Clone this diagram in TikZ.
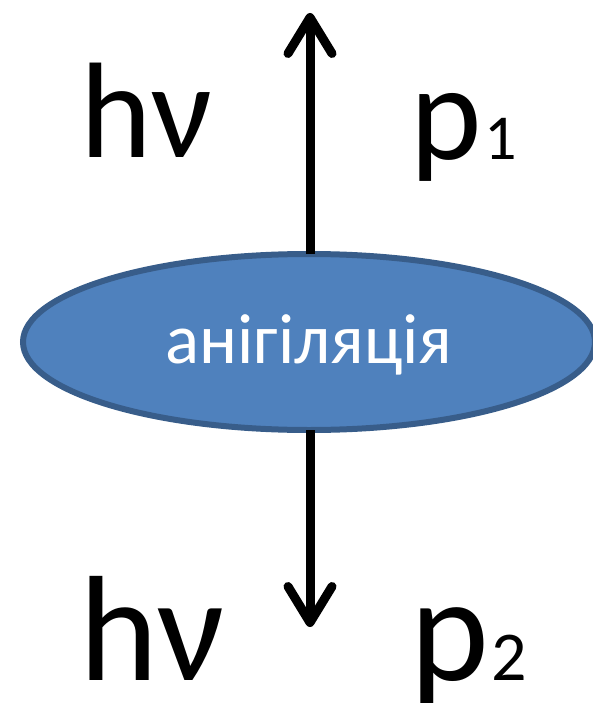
\documentclass[tikz,border=0pt]{standalone}
\usepackage{fontspec}
\setmainfont{Carlito}
\usetikzlibrary{arrows.meta}
\definecolor{ellfill}{HTML}{4F81BD}
\definecolor{elldraw}{HTML}{385D8A}
\begin{document}
\begin{tikzpicture}[x=1pt,y=-1pt,
  big/.style={font=\fontsize{136}{136}\selectfont, inner sep=0pt, anchor=base west},
  bigger/.style={font=\fontsize{150}{150}\selectfont, inner sep=0pt, anchor=base west},
  sub/.style={font=\fontsize{64}{64}\selectfont, inner sep=0pt, anchor=base west},
  subb/.style={font=\fontsize{70}{70}\selectfont, inner sep=0pt, anchor=base west},
  arr/.style={line width=9pt, -{Straight Barb[length=36pt,width=44pt,round,line width=9pt]}}]
\useasboundingbox (0,0) rectangle (593,703);
\draw[fill=ellfill, draw=elldraw, line width=6pt] (309,342) ellipse [x radius=286, y radius=88];
\node[font=\fontsize{71}{71}\selectfont, text=white, inner sep=0pt] (ann) at (309,345) {анігіляція};
\coordinate (top) at (310,254);
\coordinate (bot) at (310,430);
\coordinate (up) at (310,13);
\coordinate (dn) at (310,627);
\draw[arr] (top) -- (up);
\draw[arr] (bot) -- (dn);
\node[big] (hv1) at (80,158) {hν};
\node[big] (p1) at (410,160) {p};
\node[sub] (s1) at ([xshift=2pt]p1.base east) {1};
\node[bigger] (hv2) at (79,680) {hν};
\node[bigger] (p2) at (410,680) {p};
\node[subb] (s2) at ([xshift=2pt]p2.base east) {2};
\end{tikzpicture}
\end{document}
